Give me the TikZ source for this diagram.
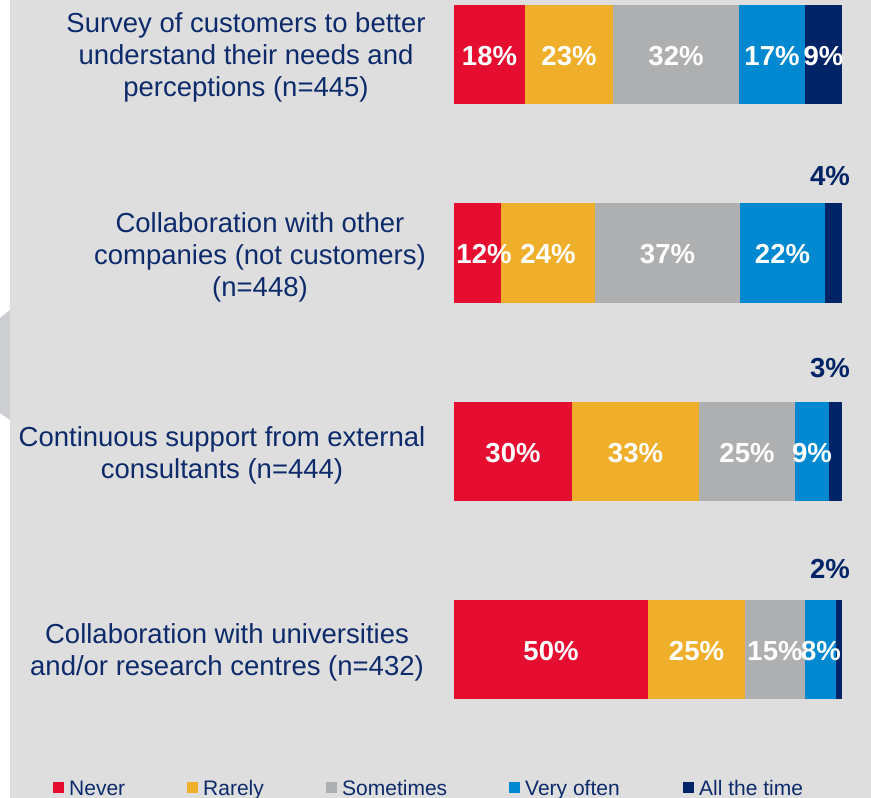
\documentclass[tikz,border=0pt]{standalone}
\usepackage{fontspec}
\setmainfont{Liberation Sans}
\definecolor{cRed}{HTML}{E60E30}
\definecolor{cYel}{HTML}{EFAF2B}
\definecolor{cGry}{HTML}{AEAFB1}
\definecolor{cBlu}{HTML}{0088D1}
\definecolor{cNav}{HTML}{002466}
\definecolor{cTxt}{HTML}{0D2B6B}
\definecolor{cBg}{HTML}{DEDEDE}
\definecolor{cChev}{HTML}{CDCED2}
\begin{document}
\begin{tikzpicture}[x=1pt,y=-1pt,
  cat/.style={inner sep=0pt,align=center,text=cTxt,font=\fontsize{27.5}{32}\selectfont},
  pct/.style={inner sep=0pt,anchor=base,text=white,font=\fontsize{27.5}{32}\selectfont\bfseries},
  outpct/.style={inner sep=0pt,anchor=base,text=cNav,font=\fontsize{27.5}{32}\selectfont\bfseries},
  leg/.style={inner sep=0pt,anchor=base west,text=cTxt,font=\fontsize{21}{24}\selectfont}]
\useasboundingbox (0,0) rectangle (871,798);
\fill[white] (0,0) rectangle (871,798);
\fill[cChev] (0,318) -- (10,310) -- (10,420) -- (0,413) -- cycle;
\fill[cBg] (10,0) rectangle (871,798);

% bar 1
\fill[cRed] (454,5) rectangle (525,104);
\fill[cYel] (525,5) rectangle (613,104);
\fill[cGry] (613,5) rectangle (739,104);
\fill[cBlu] (739,5) rectangle (805,104);
\fill[cNav] (805,5) rectangle (842,104);
\node[pct] (a1) at (489.5,65) {18\%};
\node[pct] (a2) at (569,65) {23\%};
\node[pct] (a3) at (676,65) {32\%};
\node[pct] (a4) at (772,65) {17\%};
\node[pct] (a5) at (823.5,65) {9\%};

% bar 2
\fill[cRed] (454,203) rectangle (501,303);
\fill[cYel] (501,203) rectangle (595,303);
\fill[cGry] (595,203) rectangle (740,303);
\fill[cBlu] (740,203) rectangle (825,303);
\fill[cNav] (825,203) rectangle (842,303);
\node[pct] (b1) at (484,263.5) {12\%};
\node[pct] (b2) at (548,263.5) {24\%};
\node[pct] (b3) at (667.5,263.5) {37\%};
\node[pct] (b4) at (782.5,263.5) {22\%};
\node[outpct] (b5) at (830,185) {4\%};

% bar 3
\fill[cRed] (454,402) rectangle (572,501);
\fill[cYel] (572,402) rectangle (699,501);
\fill[cGry] (699,402) rectangle (795,501);
\fill[cBlu] (795,402) rectangle (829,501);
\fill[cNav] (829,402) rectangle (842,501);
\node[pct] (c1) at (513,462) {30\%};
\node[pct] (c2) at (635.5,462) {33\%};
\node[pct] (c3) at (747,462) {25\%};
\node[pct] (c4) at (812,462) {9\%};
\node[outpct] (c5) at (830,377) {3\%};

% bar 4
\fill[cRed] (454,600) rectangle (648,699);
\fill[cYel] (648,600) rectangle (745,699);
\fill[cGry] (745,600) rectangle (805,699);
\fill[cBlu] (805,600) rectangle (836,699);
\fill[cNav] (836,600) rectangle (842,699);
\node[pct] (d1) at (551,660) {50\%};
\node[pct] (d2) at (696.5,660) {25\%};
\node[pct] (d3) at (775,660) {15\%};
\node[pct] (d4) at (821,660) {8\%};
\node[outpct] (d5) at (830,578) {2\%};

% category labels
\node[cat] (la) at (246,57) {Survey of customers to better\\understand their needs and\\perceptions (n=445)};
\node[cat] (lb) at (260,257) {Collaboration with other\\companies (not customers)\\(n=448)};
\node[cat] (lc) at (222,455) {Continuous support from external\\consultants (n=444)};
\node[cat] (ld) at (227,652) {Collaboration with universities\\and/or research centres (n=432)};

% legend
\fill[cRed] (53,782) rectangle (64,793);
\node[leg] (g1) at (69,795) {Never};
\fill[cYel] (187,782) rectangle (198,793);
\node[leg] (g2) at (203,795) {Rarely};
\fill[cGry] (326,782) rectangle (337,793);
\node[leg] (g3) at (342,795) {Sometimes};
\fill[cBlu] (509,782) rectangle (520,793);
\node[leg] (g4) at (525,795) {Very often};
\fill[cNav] (683,782) rectangle (694,793);
\node[leg] (g5) at (699,795) {All the time};
\end{tikzpicture}
\end{document}
